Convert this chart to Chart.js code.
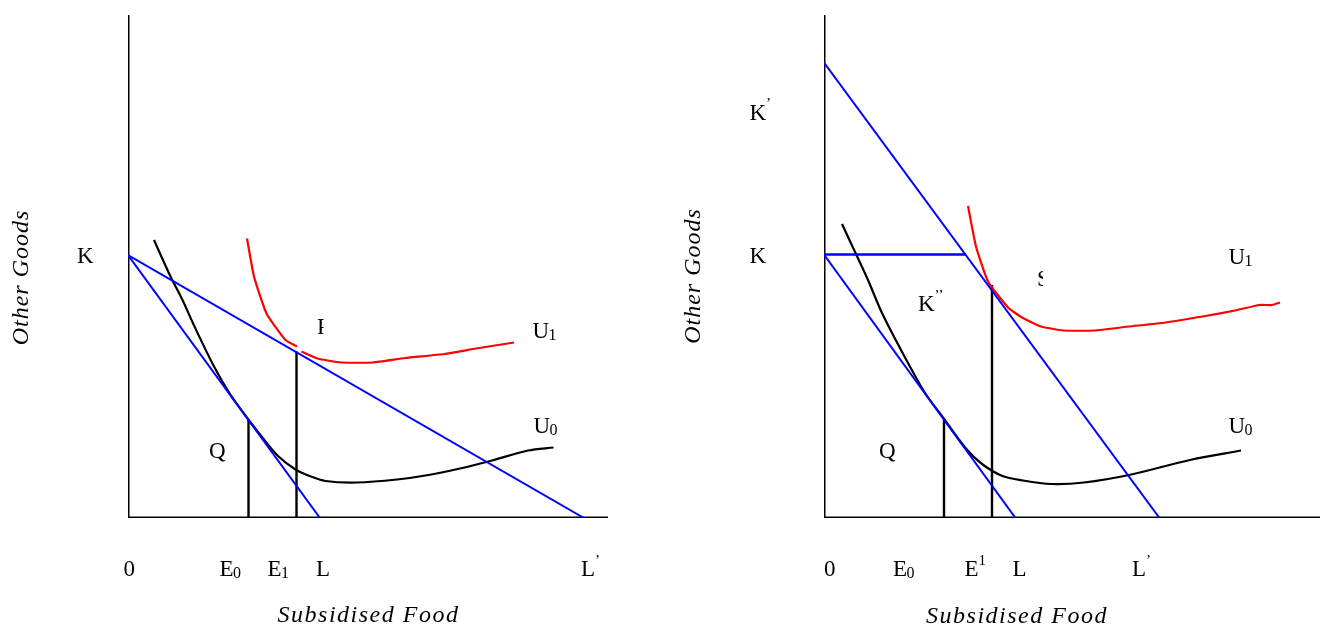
<!DOCTYPE html>
<html>
<head>
<meta charset="utf-8">
<title>Subsidised Food</title>
<script src="https://cdn.jsdelivr.net/npm/chart.js@4.4.1/dist/chart.umd.min.js"></script>
<style>
  body { margin: 0; background: #fff; }
  #lienzo { position: relative; width: 1321px; height: 627px; overflow: hidden; }
  canvas { position: absolute; top: 0; }
</style>
</head>
<body>
<div id="lienzo">
  <canvas id="ch-izq" width="660" height="627" style="left:0;width:660px;height:627px"></canvas>
  <canvas id="ch-der" width="661" height="627" style="left:660px;width:661px;height:627px"></canvas>
</div>
<script>
const FUENTE = '"Liberation Serif", "Times New Roman", serif';
const AZUL = "#0000ff";
const ROJO = "#ff0000";
const NEGRO = "#000000";

/* ========================= */
/* DATOS PANEL IZQUIERDO     */
/* ========================= */

const IZQ_EJE_X = [0, 96];
const IZQ_EJE_Y = [0, 100.6];

const IZQ_KL_X = [0, 38.4];
const IZQ_KL_Y = [52.6, 0];
const IZQ_KL2_X = [0, 91.2];
const IZQ_KL2_Y = [52.6, 0];

const IZQ_U0_X = [5.2, 8.5, 10.9, 13.3, 17.2, 20.4, 24.0, 26.8, 30.0, 33.5, 36.3, 39.5, 45.8, 53.8, 60.1, 66.4, 72.8, 80.0, 85.1];
const IZQ_U0_Y = [55.6, 48.3, 43.6, 38.3, 30.3, 24.8, 19.8, 16.2, 12.4, 9.7, 8.4, 7.4, 7.1, 7.7, 8.6, 9.9, 11.5, 13.5, 14.1];

const IZQ_U1_X = [23.8, 25.2, 27.7, 31.5, 33.8, 34.2, 34.7, 37.9, 42.6, 49.0, 55.4, 63.3, 69.6, 77.2];
const IZQ_U1_Y = [55.9, 48.3, 40.9, 35.6, 34.3, null, 33.3, 31.9, 31.1, 31.1, 32.0, 32.8, 33.9, 35.1];

const IZQ_E0_X = [24.1, 24.1];
const IZQ_E0_Y = [0, 19.6];
const IZQ_E1_X = [33.7, 33.7];
const IZQ_E1_Y = [0, 33.3];

/* ========================= */
/* DATOS PANEL DERECHO       */
/* ========================= */

const DER_EJE_X = [0, 99.2];
const DER_EJE_Y = [0, 100.6];

const DER_KL2_X = [0, 67.1];
const DER_KL2_Y = [91.1, 0];
const DER_KH_X = [0, 28.3];
const DER_KH_Y = [52.7, 52.7];
const DER_KL_X = [0, 38.3];
const DER_KL_Y = [52.7, 0];

const DER_U0_X = [3.6, 6.3, 8.8, 11.6, 16.1, 20.2, 23.8, 28.3, 31.6, 35.7, 39.8, 45.4, 52.0, 61.0, 73.2, 83.4];
const DER_U0_Y = [58.8, 53.0, 47.6, 41.0, 32.3, 25.0, 20.1, 14.0, 10.8, 8.4, 7.5, 6.8, 7.1, 8.6, 11.6, 13.5];

const DER_U1_X = [28.8, 30.4, 32.8, 36.9, 39.8, 43.4, 47.9, 54.0, 61.0, 68.3, 75.7, 82.2, 87.1, 89.6, 91.2];
const DER_U1_Y = [62.4, 54.3, 47.3, 42.0, 40.0, 38.3, 37.5, 37.5, 38.3, 39.1, 40.3, 41.5, 42.6, 42.6, 43.1];

const DER_E0_X = [24.0, 24.0];
const DER_E0_Y = [0, 19.7];
const DER_E1_X = [33.6, 33.6];
const DER_E1_Y = [0, 46.6];

/* ========================= */
/* ETIQUETAS                 */
/* ========================= */

// texto, x, y (en unidades del panel), sub/super índice, recorte
const IZQ_ETIQUETAS = [
  { t: "K", x: -10.2, y: 52.2 },
  { t: "Q", x: 16.2, y: 13.2 },
  { t: "P", x: 37.8, y: 38.0, corte: 6.5 },
  { t: "U", x: 80.9, y: 37.2, sub: "1" },
  { t: "U", x: 81.1, y: 18.2, sub: "0" },
  { t: "0", x: -0.9, y: -10.4 },
  { t: "E", x: 18.3, y: -10.4, sub: "0" },
  { t: "E", x: 27.9, y: -10.4, sub: "1" },
  { t: "L", x: 37.6, y: -10.4 },
  { t: "L", x: 90.6, y: -10.4, sup: "\u2019" }
];

const DER_ETIQUETAS = [
  { t: "K", x: -14.9, y: 80.9, sup: "\u2019" },
  { t: "K", x: -14.9, y: 52.2 },
  { t: "K", x: 18.8, y: 42.6, sup: "\u2019\u2019" },
  { t: "S", x: 42.6, y: 47.6, corte: 6 },
  { t: "U", x: 80.9, y: 52.0, sub: "1" },
  { t: "U", x: 80.9, y: 18.3, sub: "0" },
  { t: "Q", x: 11.0, y: 13.2 },
  { t: "0", x: 0.0, y: -10.4 },
  { t: "E", x: 13.8, y: -10.4, sub: "0" },
  { t: "E", x: 28.1, y: -10.4, sup: "1" },
  { t: "L", x: 37.7, y: -10.4 },
  { t: "L", x: 61.6, y: -10.4, sup: "\u2019" }
];

const TITULO_X = "Subsidised Food";
const TITULO_Y = "Other Goods";

/* ========================= */
/* UTILIDADES                */
/* ========================= */

function puntos(xs, ys) {
  return xs.map((x, i) => ({ x, y: ys[i] }));
}

function serie(xs, ys, color, ancho, tension) {
  return {
    data: puntos(xs, ys),
    borderColor: color,
    borderWidth: ancho,
    showLine: true,
    pointRadius: 0,
    tension: tension || 0,
    spanGaps: false,
    fill: false
  };
}

function pluginTextos(etiquetas, tituloX, tituloY) {
  return {
    id: "textos",
    afterDatasetsDraw(chart) {
      const { ctx, scales: { x, y } } = chart;
      ctx.save();
      ctx.fillStyle = NEGRO;
      ctx.textBaseline = "middle";
      ctx.textAlign = "left";

      etiquetas.forEach(e => {
        const px = x.getPixelForValue(e.x);
        const py = y.getPixelForValue(e.y);
        ctx.save();
        if (e.corte) {
          ctx.beginPath();
          ctx.rect(px - 2, py - 20, e.corte + 2, 40);
          ctx.clip();
        }
        ctx.font = `23px ${FUENTE}`;
        ctx.fillText(e.t, px, py);
        const ancho = ctx.measureText(e.t).width;
        if (e.sub) {
          ctx.font = `16px ${FUENTE}`;
          ctx.fillText(e.sub, px + ancho - 0.5, py + 4);
        }
        if (e.sup) {
          ctx.font = `15px ${FUENTE}`;
          ctx.fillText(e.sup, px + ancho, py - 9);
        }
        ctx.restore();
      });

      // título eje X
      ctx.font = `italic 24px ${FUENTE}`;
      ctx.letterSpacing = "1.5px";
      ctx.textAlign = "center";
      ctx.fillText(tituloX.t, x.getPixelForValue(tituloX.x), y.getPixelForValue(tituloX.y));

      // título eje Y
      ctx.letterSpacing = "1px";
      ctx.save();
      ctx.translate(x.getPixelForValue(tituloY.x), y.getPixelForValue(tituloY.y));
      ctx.rotate(-Math.PI / 2);
      ctx.fillText(tituloY.t, 0, 0);
      ctx.restore();

      ctx.restore();
    }
  };
}

const OPCIONES_COMUNES = {
  responsive: false,
  animation: false,
  events: [],
  plugins: {
    legend: { display: false },
    tooltip: { enabled: false }
  }
};

/* ========================= */
/* PANEL IZQUIERDO           */
/* ========================= */

new Chart(document.getElementById("ch-izq"), {
  type: "scatter",
  data: {
    datasets: [
      serie(IZQ_KL_X, IZQ_KL_Y, AZUL, 2),
      serie(IZQ_KL2_X, IZQ_KL2_Y, AZUL, 2),
      serie(IZQ_U0_X, IZQ_U0_Y, NEGRO, 2.2, 0.3),
      serie(IZQ_U1_X, IZQ_U1_Y, ROJO, 2.2, 0.15),
      serie(IZQ_E0_X, IZQ_E0_Y, NEGRO, 2.4),
      serie(IZQ_E1_X, IZQ_E1_Y, NEGRO, 2.4),
      serie(IZQ_EJE_X, [0, 0], NEGRO, 3),
      serie([0, 0], IZQ_EJE_Y, NEGRO, 3)
    ]
  },
  options: {
    ...OPCIONES_COMUNES,
    layout: { padding: { left: 128, top: 15, right: 52, bottom: 109 } },
    scales: {
      x: { type: "linear", display: false, min: 0, max: 96 },
      y: { type: "linear", display: false, min: 0, max: 100.6 }
    }
  },
  plugins: [pluginTextos(
    IZQ_ETIQUETAS,
    { t: TITULO_X, x: 48.1, y: -19.6 },
    { t: TITULO_Y, x: -21.3, y: 48.1 }
  )]
});

/* ========================= */
/* PANEL DERECHO             */
/* ========================= */

new Chart(document.getElementById("ch-der"), {
  type: "scatter",
  data: {
    datasets: [
      serie(DER_KL2_X, DER_KL2_Y, AZUL, 2),
      serie(DER_KH_X, DER_KH_Y, AZUL, 2.6),
      serie(DER_KL_X, DER_KL_Y, AZUL, 2),
      serie(DER_U0_X, DER_U0_Y, NEGRO, 2.2, 0.3),
      serie(DER_U1_X, DER_U1_Y, ROJO, 2.2, 0.15),
      serie(DER_E0_X, DER_E0_Y, NEGRO, 2.4),
      serie(DER_E1_X, DER_E1_Y, NEGRO, 2.4),
      serie(DER_EJE_X, [0, 0], NEGRO, 3),
      serie([0, 0], DER_EJE_Y, NEGRO, 3)
    ]
  },
  options: {
    ...OPCIONES_COMUNES,
    layout: { padding: { left: 164, top: 15, right: 1, bottom: 109 } },
    scales: {
      x: { type: "linear", display: false, min: 0, max: 99.2 },
      y: { type: "linear", display: false, min: 0, max: 100.6 }
    }
  },
  plugins: [pluginTextos(
    DER_ETIQUETAS,
    { t: TITULO_X, x: 38.6, y: -19.7 },
    { t: TITULO_Y, x: -26, y: 48.4 }
  )]
});
</script>
</body>
</html>
